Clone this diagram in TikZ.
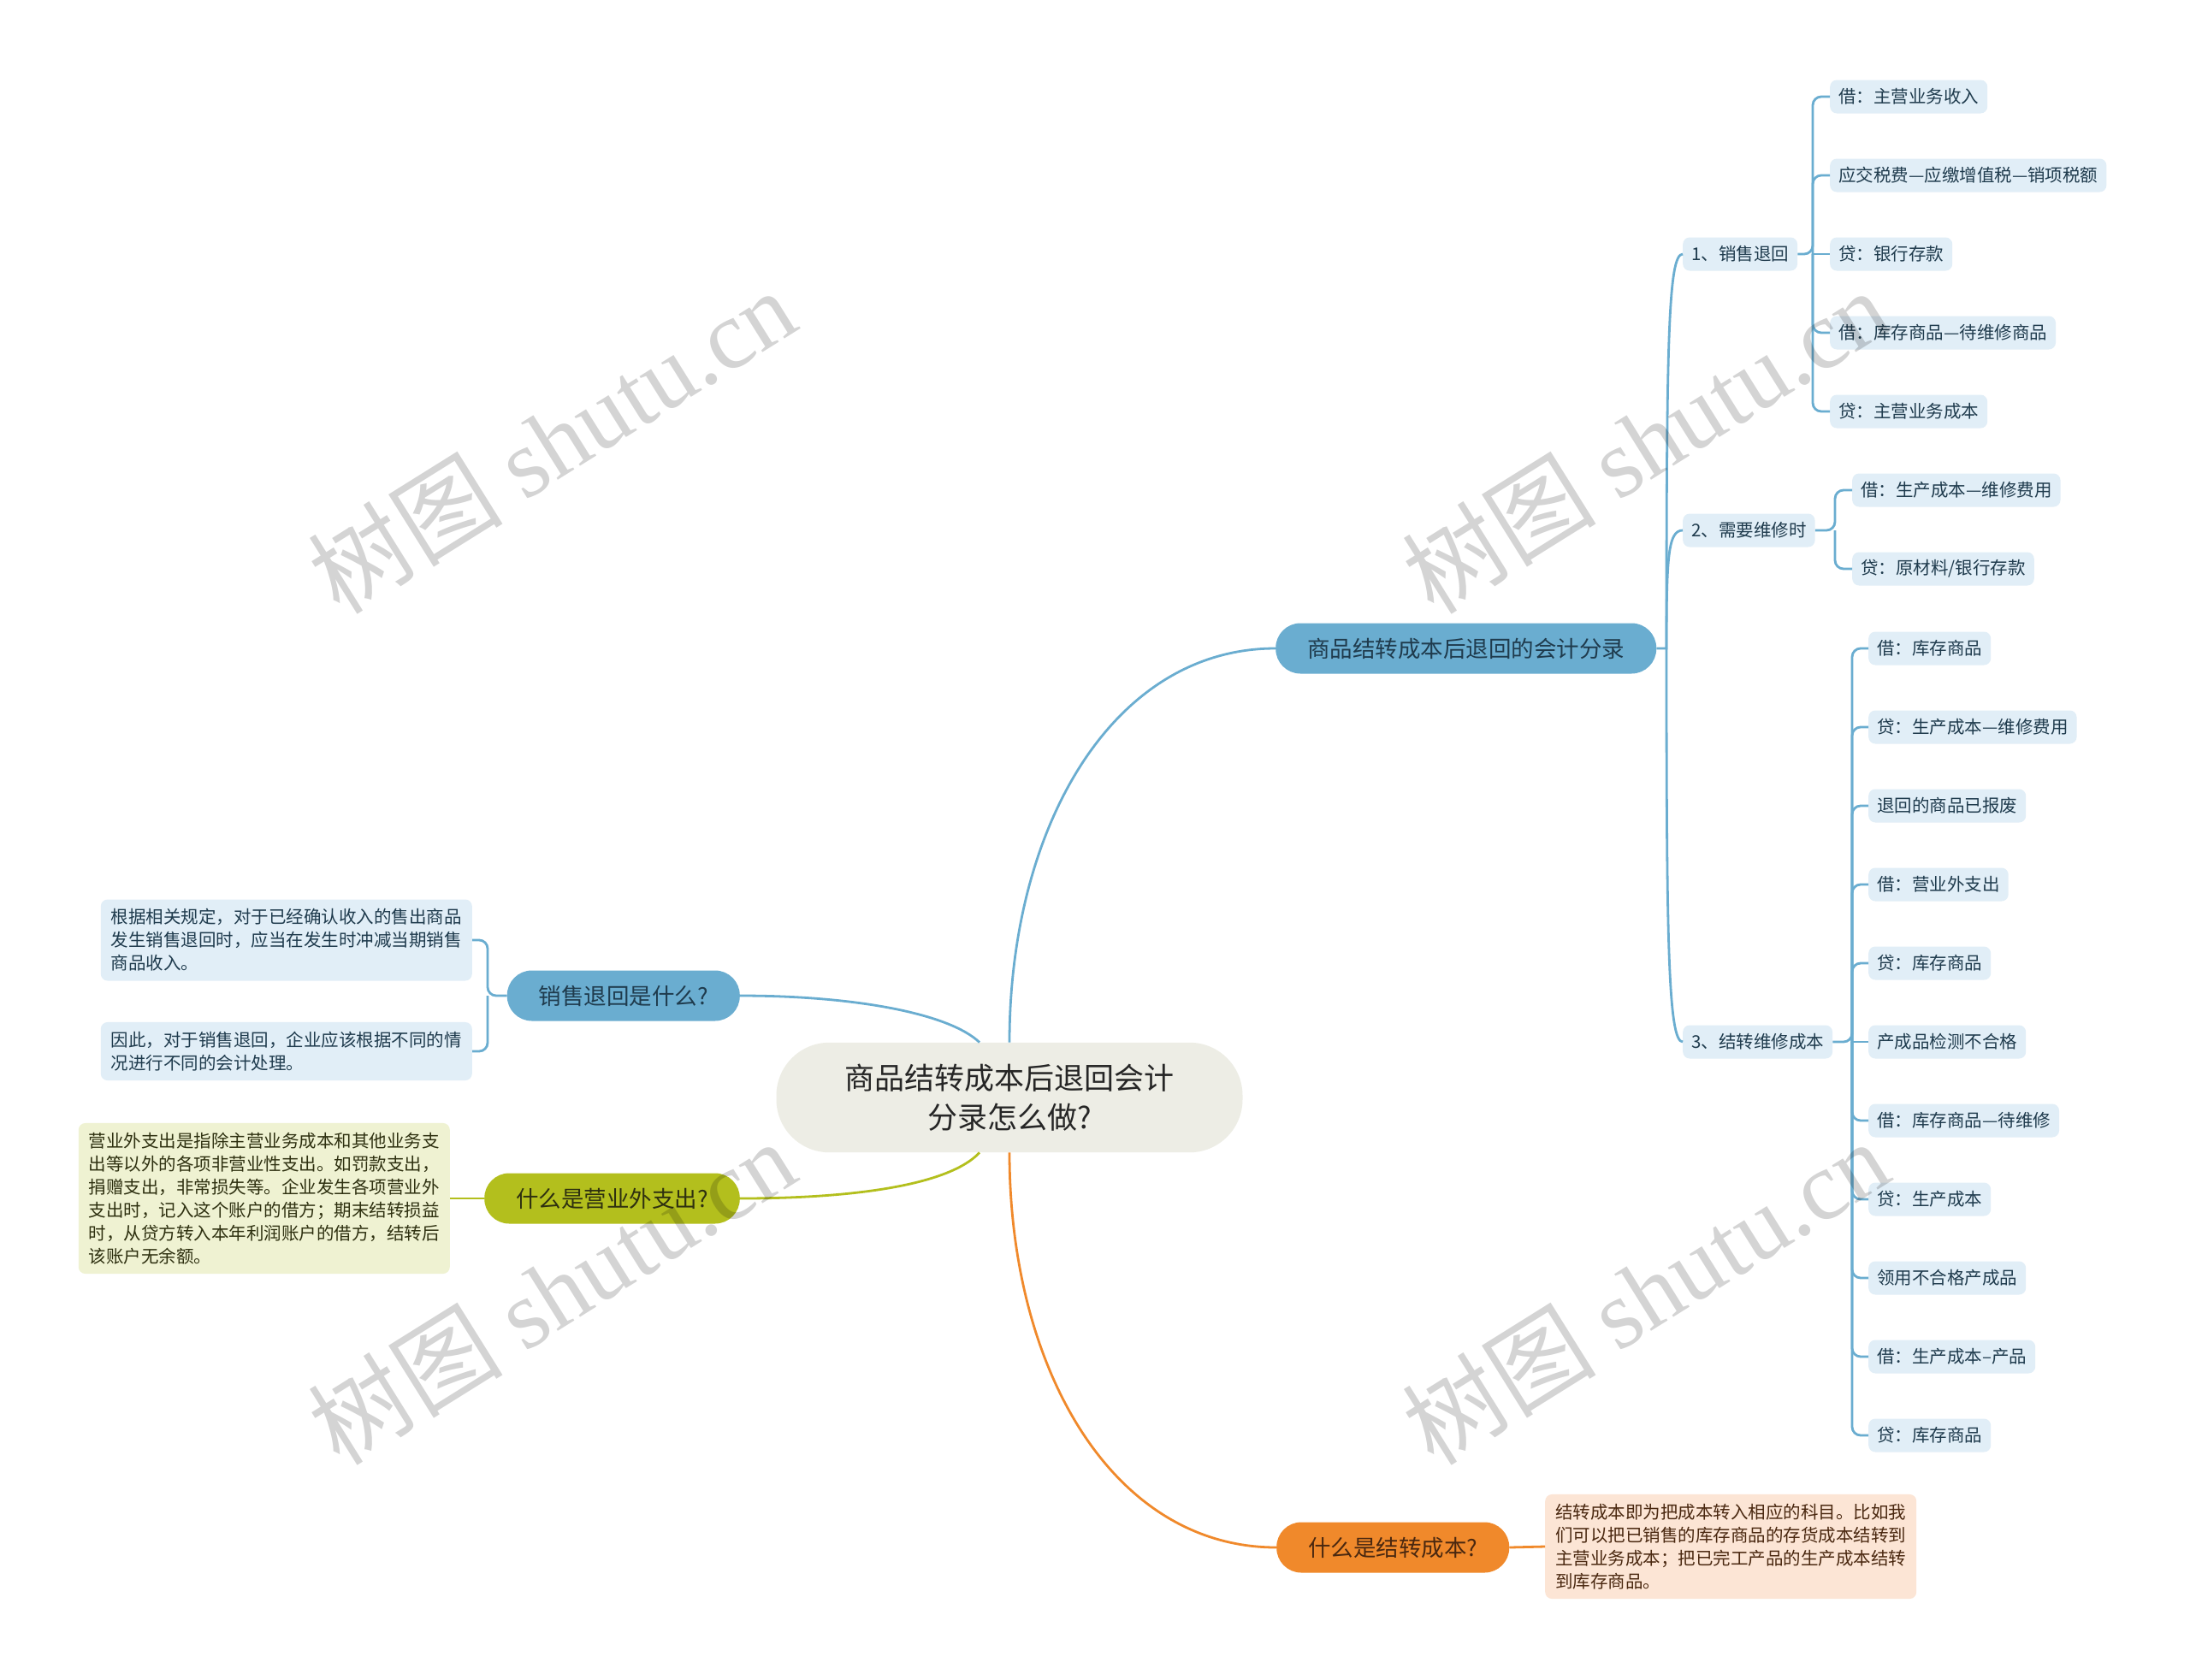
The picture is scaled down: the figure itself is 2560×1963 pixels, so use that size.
\documentclass[tikz,border=0pt]{standalone}
\usepackage{fontspec}
\usepackage{tikz}
\newfontfamily\cjk{Noto Sans CJK SC}
\newfontfamily\wmserif{Liberation Serif}
\definecolor{mapblue}{HTML}{6AADD0}
\definecolor{leafblue}{HTML}{E1EEF7}
\definecolor{inkblue}{HTML}{1F3B4D}
\definecolor{rootfill}{HTML}{EDEDE5}
\definecolor{mapgreen}{HTML}{B3BF1D}
\definecolor{notegreen}{HTML}{EFF2D2}
\definecolor{inkolive}{HTML}{2E3010}
\definecolor{maporange}{HTML}{F0892B}
\definecolor{noteorange}{HTML}{FCE5D5}
\definecolor{inkbrown}{HTML}{4A2810}
\tikzset{
	rootbox/.style={fill=rootfill, rounded corners=62pt, inner xsep=80pt, inner ysep=25pt, align=center, text=black!85, font=\cjk\fontsize{35}{46}\selectfont},
	topic/.style={rounded corners=29pt, minimum height=59pt, inner xsep=37pt, inner ysep=0pt, text=inkblue, font=\cjk\fontsize{26.5}{30}\selectfont},
	leaf/.style={fill=leafblue, rounded corners=8pt, minimum height=39pt, inner xsep=10pt, inner ysep=0pt, text=inkblue, font=\cjk\fontsize{20.5}{24}\selectfont},
	note/.style={rounded corners=8pt, inner xsep=12pt, inner ysep=11pt, align=left, font=\cjk\fontsize{20.5}{27}\selectfont},
	link/.style={line width=2.8pt, draw=mapblue},
	fork/.style={line width=2.8pt, draw=mapblue, rounded corners=10pt},
	wmark/.style={rotate=32, text=black, text opacity=0.17, font=\cjk\fontsize{114}{114}\selectfont}
}

\begin{document}
\begin{tikzpicture}[x=1pt, y=-1pt]
	%%%%% START %%%%%
	
	\useasboundingbox[fill=white] (0, 0) rectangle (2560, 1963);
	
	\node[rootbox] (root) at (1180, 1283) {商品结转成本后退回会计\\分录怎么做?};
	
	\node[topic, fill=mapblue, anchor=west] (acct) at (1491, 758) {商品结转成本后退回的会计分录};
	\node[topic, fill=mapblue, anchor=east] (whatret) at (865, 1164) {销售退回是什么?};
	\node[topic, fill=mapgreen, anchor=east, text=inkolive] (whatexp) at (865, 1401) {什么是营业外支出?};
	\node[topic, fill=maporange, anchor=west, text=inkbrown] (whatcost) at (1492, 1809) {什么是结转成本?};
	
	\draw[link] (root.north) .. controls (1180, 967) and (1300, 758) .. (acct.west);
	\draw[link] ([xshift=-35pt]root.north) .. controls (1110, 1185) and (1000, 1164) .. (whatret.east);
	\draw[link, draw=mapgreen] ([xshift=-35pt]root.south) .. controls (1110, 1385) and (1000, 1401) .. (whatexp.east);
	\draw[link, draw=maporange] (root.south) .. controls (1180, 1600) and (1300, 1809) .. (whatcost.west);
	
	\node[leaf, anchor=west] (ret) at (1967, 297) {1、销售退回};
	\node[leaf, anchor=west] (fix) at (1967, 620) {2、需要维修时};
	\node[leaf, anchor=west] (carry) at (1967, 1218) {3、结转维修成本};
	
	\coordinate (jacct) at (1948, 758);
	\draw[link] (acct.east) -- (jacct) .. controls (1948, 400) and (1950, 297) .. (ret.west);
	\draw[link] (jacct) .. controls (1948, 650) and (1950, 620) .. (fix.west);
	\draw[link] (jacct) .. controls (1948, 1100) and (1950, 1218) .. (carry.west);
	
	\node[leaf, anchor=west] (r1) at (2139, 113) {借：主营业务收入};
	\node[leaf, anchor=west] (r2) at (2139, 205) {应交税费—应缴增值税—销项税额};
	\node[leaf, anchor=west] (r3) at (2139, 297) {贷：银行存款};
	\node[leaf, anchor=west] (r4) at (2139, 389) {借：库存商品—待维修商品};
	\node[leaf, anchor=west] (r5) at (2139, 481) {贷：主营业务成本};
	
	\coordinate (jret) at (2119, 297);
	\draw[fork] (ret.east) -- (jret) |- (r1.west);
	\draw[fork] (jret) |- (r2.west);
	\draw[fork] (jret) -- (r3.west);
	\draw[fork] (jret) |- (r4.west);
	\draw[fork] (jret) |- (r5.west);
	
	\node[leaf, anchor=west] (f1) at (2165, 573) {借：生产成本—维修费用};
	\node[leaf, anchor=west] (f2) at (2165, 665) {贷：原材料/银行存款};
	
	\coordinate (jfix) at (2145, 620);
	\draw[fork] (fix.east) -- (jfix) |- (f1.west);
	\draw[fork] (jfix) |- (f2.west);
	
	\node[leaf, anchor=west] (c1) at (2184, 758) {借：库存商品};
	\node[leaf, anchor=west] (c2) at (2184, 850) {贷：生产成本—维修费用};
	\node[leaf, anchor=west] (c3) at (2184, 942) {退回的商品已报废};
	\node[leaf, anchor=west] (c4) at (2184, 1034) {借：营业外支出};
	\node[leaf, anchor=west] (c5) at (2184, 1126) {贷：库存商品};
	\node[leaf, anchor=west] (c6) at (2184, 1218) {产成品检测不合格};
	\node[leaf, anchor=west] (c7) at (2184, 1310) {借：库存商品—待维修};
	\node[leaf, anchor=west] (c8) at (2184, 1402) {贷：生产成本};
	\node[leaf, anchor=west] (c9) at (2184, 1494) {领用不合格产成品};
	\node[leaf, anchor=west] (c10) at (2184, 1586) {借：生产成本–产品};
	\node[leaf, anchor=west] (c11) at (2184, 1678) {贷：库存商品};
	
	\coordinate (jcarry) at (2165, 1218);
	\draw[fork] (carry.east) -- (jcarry) |- (c1.west);
	\draw[fork] (jcarry) |- (c2.west);
	\draw[fork] (jcarry) |- (c3.west);
	\draw[fork] (jcarry) |- (c4.west);
	\draw[fork] (jcarry) |- (c5.west);
	\draw[fork] (jcarry) -- (c6.west);
	\draw[fork] (jcarry) |- (c7.west);
	\draw[fork] (jcarry) |- (c8.west);
	\draw[fork] (jcarry) |- (c9.west);
	\draw[fork] (jcarry) |- (c10.west);
	\draw[fork] (jcarry) |- (c11.west);
	
	\node[note, fill=leafblue, text=inkblue, anchor=east] (retnote1) at (552, 1099) {根据相关规定，对于已经确认收入的售出商品\\发生销售退回时，应当在发生时冲减当期销售\\商品收入。};
	\node[note, fill=leafblue, text=inkblue, anchor=east] (retnote2) at (552, 1229) {因此，对于销售退回，企业应该根据不同的情\\况进行不同的会计处理。};
	
	\coordinate (jwhat) at (570, 1164);
	\draw[fork] (whatret.west) -- (jwhat) |- (retnote1.east);
	\draw[fork] (jwhat) |- (retnote2.east);
	
	\node[note, fill=notegreen, text=inkolive, anchor=east] (expnote) at (526, 1401) {营业外支出是指除主营业务成本和其他业务支\\出等以外的各项非营业性支出。如罚款支出，\\捐赠支出，非常损失等。企业发生各项营业外\\支出时，记入这个账户的借方；期末结转损益\\时，从贷方转入本年利润账户的借方，结转后\\该账户无余额。};
	\draw[link, draw=mapgreen] (whatexp.west) -- (expnote.east);
	
	\node[note, fill=noteorange, text=inkbrown, anchor=west] (costnote) at (1806, 1808) {结转成本即为把成本转入相应的科目。比如我\\们可以把已销售的库存商品的存货成本结转到\\主营业务成本；把已完工产品的生产成本结转\\到库存商品。};
	\draw[link, draw=maporange] (whatcost.east) -- (costnote.west);
	
	\node[wmark] (wm1) at (645, 515) {树图 {\wmserif shutu.cn}};
	\node[wmark] (wm2) at (1923, 515) {树图 {\wmserif shutu.cn}};
	\node[wmark] (wm3) at (645, 1510) {树图 {\wmserif shutu.cn}};
	\node[wmark] (wm4) at (1923, 1510) {树图 {\wmserif shutu.cn}};
	
	%%%%% END %%%%%
\end{tikzpicture}
\end{document}
